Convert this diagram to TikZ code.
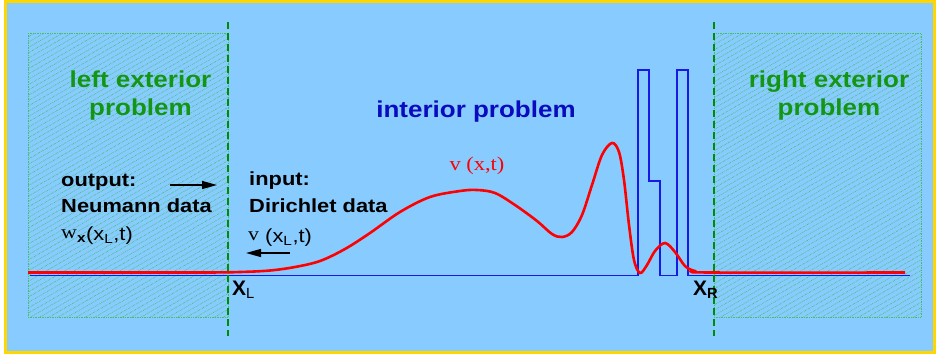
\documentclass[tikz,border=0pt]{standalone}
\usepackage{fontspec}
\setmainfont{Liberation Serif}
\setsansfont{Liberation Sans}
\usetikzlibrary{arrows.meta, patterns.meta}
\definecolor{skyback}{RGB}{136, 204, 255}
\definecolor{framegold}{RGB}{255, 214, 0}
\definecolor{extgreen}{RGB}{20, 150, 20}
\definecolor{hatchgreen}{RGB}{70, 190, 100}
\definecolor{cutgreen}{RGB}{0, 140, 0}
\definecolor{intblue}{RGB}{10, 10, 190}
\definecolor{potblue}{RGB}{25, 25, 230}

\begin{document}
\begin{tikzpicture}[
    x=1pt, y=-1pt,
    region/.style={draw=hatchgreen, densely dotted, line width=0.7pt, pattern={Lines[angle=30, distance=4.6pt, line width=0.6pt]}, pattern color=hatchgreen},
    cutline/.style={cutgreen, line width=2pt, dash pattern=on 7pt off 4pt},
    heading/.style={font=\sffamily\bfseries\fontsize{23}{28}\selectfont, xscale=1.13, inner sep=0pt, anchor=base},
    datatext/.style={font=\sffamily\bfseries\fontsize{19}{24}\selectfont, xscale=1.15, inner sep=0pt, anchor=base west},
    formula/.style={font=\sffamily\fontsize{19}{24}\selectfont, xscale=1.15, inner sep=0pt, anchor=base west},
    bound/.style={font=\sffamily\bfseries\fontsize{21}{24}\selectfont, inner sep=0pt, anchor=base west},
    flow/.style={black, line width=1.3pt, -{Triangle[length=15pt, width=8pt]}}
]
\useasboundingbox (0,0) rectangle (936,356);

% Rahmen
\draw[framegold, line width=2.5pt, fill=skyback] (5.5,1.5) rectangle (934.5,352.5);

% aeussere Gebiete
\draw[region] (28,33) rectangle (228,317);
\draw[region] (714,33) rectangle (921,317);

% Potential
\draw[potblue, line width=1.5pt] (30,275.5) -- (638,275.5) -- (638,70) -- (649,70) -- (649,181) -- (660,181)
    -- (660,275.5) -- (677,275.5) -- (677,70) -- (688,70) -- (688,275.5) -- (910,275.5);

% Loesung v(x,t)
\draw[red, line width=2.6pt] plot[smooth, tension=0.55] coordinates {
    (28,272.5) (200,272.5) (240,272) (270,270.5) (295,267) (320,261) (345,249) (370,233) (400,212)
    (430,197) (460,191) (477,190) (495,193) (515,205) (537,221) (552,234) (562,237) (572,232)
    (582,215) (592,185) (602,155) (612,143) (619,152) (624,180) (629,225) (634,260) (640,273)
    (647,265) (655,251) (665,243) (675,252) (685,266) (695,271) (710,272.5) (905,272.5)};

% Schnittpunkte
\draw[cutline] (228,22) -- (228,336);
\draw[cutline] (714,22) -- (714,336);

% Titel
\node[heading, extgreen] (lefttitle) at (140.5,87) {left exterior};
\node[heading, extgreen] (lefttitleb) at (140.5,115) {problem};
\node[heading, extgreen] (righttitle) at (829,87) {right exterior};
\node[heading, extgreen] (righttitleb) at (829,115) {problem};
\node[heading, intblue] (inttitle) at (476,117) {interior problem};
\node[font=\rmfamily\fontsize{19.5}{24}\selectfont, xscale=1.15, inner sep=0pt, anchor=base, red] (vlabel) at (477,170) {v (x,t)};

% Daten links
\node[datatext] (outa) at (61,186) {output:};
\node[datatext] (outb) at (61,212) {Neumann data};
\node[formula] (outc) at (61,240) {\raisebox{2pt}{\rmfamily w}\textsubscript{\bfseries x}(x\textsubscript{L},t)};
\node[datatext] (ina) at (249,185) {input:};
\node[datatext] (inb) at (249,212) {Dirichlet data};
\node[formula] (inc) at (248,242) {\raisebox{2pt}{\rmfamily v} (x\textsubscript{L},t)};

% Pfeile
\coordinate (outstart) at (170,185);
\coordinate (outend) at (217,185);
\coordinate (instart) at (290,253);
\coordinate (inend) at (246,253);
\draw[flow] (outstart) -- (outend);
\draw[flow] (instart) -- (inend);

% Randpunkte
\node[bound] (xl) at (232,295) {X\textsubscript{\mdseries L}};
\node[bound] (xr) at (693,295) {X\textsubscript{R}};

\end{tikzpicture}
\end{document}
